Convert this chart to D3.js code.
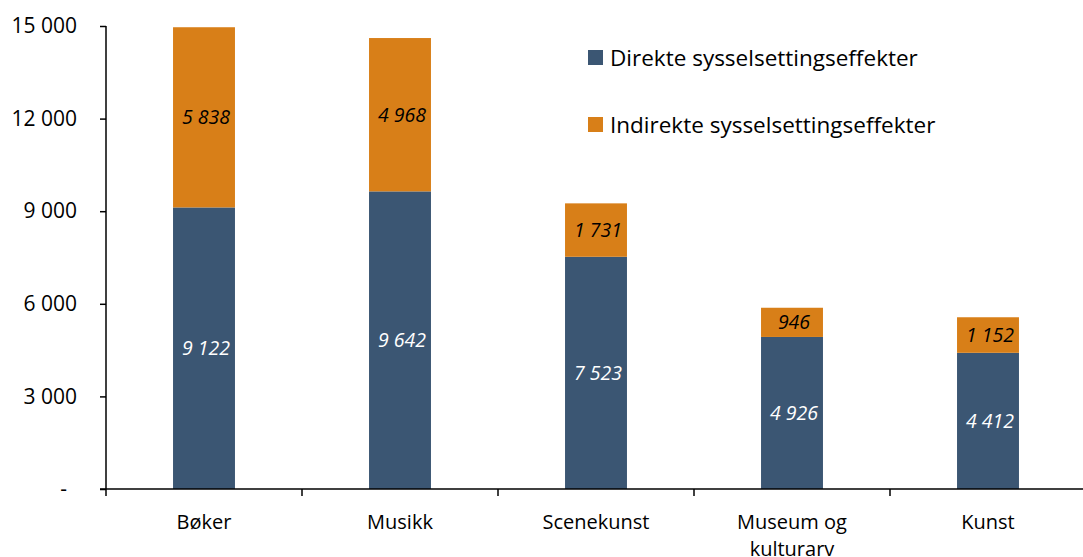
<!DOCTYPE html>
<html>
<head>
<meta charset="utf-8">
<script src="https://cdn.jsdelivr.net/npm/d3@7"></script>
<style>
  body { margin: 0; background: #fff; }
  svg { display: block; font-family: "Open Sans", sans-serif; }
</style>
</head>
<body>
<svg></svg>
<script>
const categories = ["Bøker", "Musikk", "Scenekunst", "Museum og kulturarv", "Kunst"];
const direkte = [9122, 9642, 7523, 4926, 4412];
const indirekte = [5838, 4968, 1731, 946, 1152];
const seriesNames = ["Direkte sysselsettingseffekter", "Indirekte sysselsettingseffekter"];
const yTicks = [0, 3000, 6000, 9000, 12000, 15000];

const svg = d3.select("svg")
    .attr("width", 1083)
    .attr("height", 557);

const colors = ["#3b5673", "#d87f18"];

const rows = categories.map((c, i) => ({cat: c, direkte: direkte[i], indirekte: indirekte[i]}));
const stack = d3.stack().keys(["direkte", "indirekte"]);
const series = stack(rows);

const x = d3.scaleBand()
    .domain(categories)
    .range([106, 1086])
    .paddingInner(0.684)
    .paddingOuter(0.342);

const y = d3.scaleLinear()
    .domain([0, 15000])
    .range([489, 26]);

const fmt = v => v === 0 ? "-" : d3.format(",")(v).replace(/,/g, " ");

// y axis
const yAxis = svg.append("g")
    .attr("transform", "translate(106,0)")
    .call(d3.axisLeft(y).tickValues(yTicks).tickSize(6).tickPadding(23).tickFormat(fmt));
yAxis.select(".domain").attr("stroke", "#000").attr("stroke-width", 1.5).attr("d", "M0,26V489");
yAxis.selectAll(".tick line").attr("stroke", "#000").attr("stroke-width", 1.5);
yAxis.selectAll("text").attr("font-size", 21).attr("fill", "#000")
    .attr("font-family", "'Open Sans', sans-serif");
yAxis.selectAll(".tick").filter(d => d === 0).select("text").attr("dx", -10);

// bars
const layer = svg.append("g").selectAll("g")
    .data(series)
    .join("g")
      .attr("fill", (d, i) => colors[i]);

layer.selectAll("rect")
    .data(d => d)
    .join("rect")
      .attr("x", d => x(d.data.cat))
      .attr("y", d => y(d[1]))
      .attr("width", x.bandwidth())
      .attr("height", d => y(d[0]) - y(d[1]));

// value labels
layer.each(function(s, si) {
  d3.select(this).selectAll("text")
    .data(s)
    .join("text")
      .attr("x", d => x(d.data.cat) + x.bandwidth() / 2 + 2)
      .attr("y", d => (y(d[0]) + y(d[1])) / 2)
      .attr("dy", "0.35em")
      .attr("text-anchor", "middle")
      .attr("font-size", 19.5)
      .attr("font-style", "italic")
      .attr("fill", si === 0 ? "#fff" : "#000")
      .text(d => fmt(d[1] - d[0]));
});

// x axis
const xAxis = svg.append("g")
    .attr("transform", "translate(0,489)");
xAxis.append("line")
    .attr("x1", 100).attr("x2", 1083)
    .attr("stroke", "#000").attr("stroke-width", 1.5);
xAxis.selectAll(".xtick")
    .data(d3.range(categories.length + 1))
    .join("line")
      .attr("class", "xtick")
      .attr("x1", i => 106 + i * x.step())
      .attr("x2", i => 106 + i * x.step())
      .attr("y1", 0).attr("y2", 7)
      .attr("stroke", "#000").attr("stroke-width", 1.5);

xAxis.selectAll(".xlabel")
    .data(categories)
    .join("text")
      .attr("class", "xlabel")
      .attr("text-anchor", "middle")
      .attr("font-size", 20)
      .attr("fill", "#000")
      .each(function(d) {
        const t = d3.select(this);
        const cx = x(d) + x.bandwidth() / 2;
        const lines = d === "Museum og kulturarv" ? ["Museum og", "kulturarv"] : [d];
        lines.forEach((l, i) => {
          t.append("tspan").attr("x", cx).attr("y", 40 + i * 27).text(l);
        });
      });

// legend
const legend = svg.append("g").selectAll("g")
    .data(seriesNames)
    .join("g")
      .attr("transform", (d, i) => `translate(588,${50 + i * 67})`);
legend.append("rect")
    .attr("width", 15).attr("height", 15)
    .attr("fill", (d, i) => colors[i]);
legend.append("text")
    .attr("x", 22).attr("y", 8)
    .attr("dy", "0.35em")
    .attr("font-size", 22.5)
    .attr("fill", "#000")
    .text(d => d);
</script>
</body>
</html>
